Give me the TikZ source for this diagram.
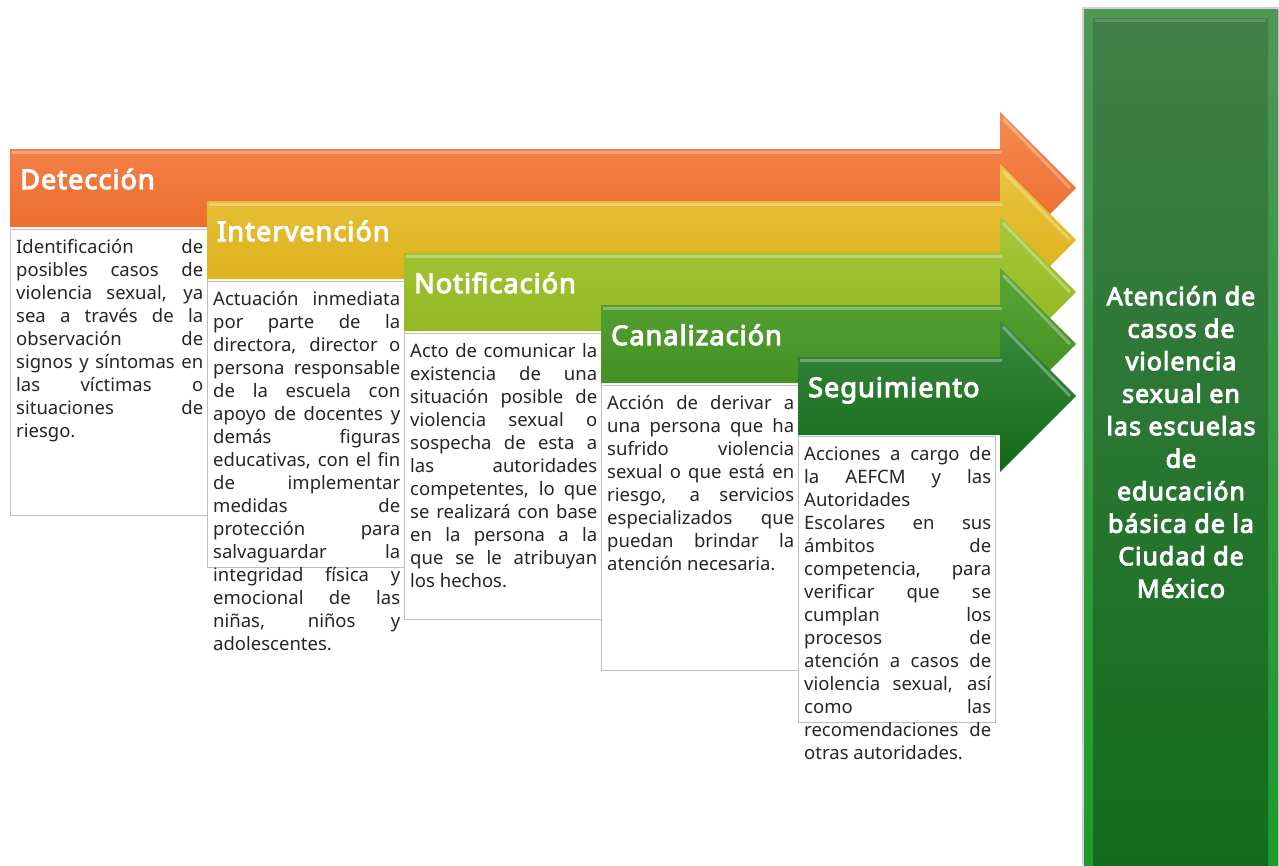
\documentclass[tikz,border=0pt]{standalone}
\usepackage{fontspec}
\setmainfont{Noto Sans}
\newfontfamily\heavyfont{Noto Sans}[FakeBold=4,LetterSpace=4]
\definecolor{bordergray}{HTML}{BFBFBF}
\definecolor{txtgray}{HTML}{262626}
\tolerance=10000
\hyphenpenalty=10000
\exhyphenpenalty=10000
\tikzset{
 boxframe/.style={draw=bordergray, fill=white, line width=1pt},
 bodytxt/.style={anchor=base west, inner sep=0pt, text width=187pt, align=justify,
   font=\fontsize{18.5}{23}\selectfont, text=txtgray},
 arrowlabel/.style={anchor=base west, inner sep=0pt, font=\heavyfont\fontsize{27}{30}\selectfont, text=white},
 sidetxt/.style={align=center, inner sep=0pt, font=\heavyfont\fontsize{25}{32.5}\selectfont, text=white},
}
\newcommand\steparrow[4]{%
 \shade[top color=#3, bottom color=#4] (#1,#2-39) -- (1000,#2-39) -- (1000,#2-76) -- (1076,#2) -- (1000,#2+76) -- (1000,#2+39) -- (#1,#2+39) -- cycle;
 \draw[white, opacity=0.3, line width=3pt] (#1+2,#2-36) -- (1002,#2-36);
 \draw[white, opacity=0.3, line width=3pt] (1003,#2-69) -- (1070,#2);
}
\begin{document}
\begin{tikzpicture}[x=1pt,y=-1pt]
\useasboundingbox (0,0) rectangle (1279,865);
\fill[white] (0,0) rectangle (1279,865);

% right side box
\fill[black!18] (1082,7) rectangle (1279,865);
\shade[top color={rgb,255:red,78;green,152;blue,86}, bottom color={rgb,255:red,30;green,155;blue,44}] (1084,9) rectangle (1278,865);
\shade[top color={rgb,255:red,64;green,128;blue,72}, bottom color={rgb,255:red,19;green,108;blue,28}] (1093,18) rectangle (1268,865);
\draw[white, opacity=0.15, line width=3pt] (1095,20) -- (1266,20);
\node[sidetxt] (side) at (1181,442) {Atención de\\casos de\\violencia\\sexual en\\las escuelas\\de\\educación\\básica de la\\Ciudad de\\México};

% arrow 1
\steparrow{10}{188}{{rgb,255:red,243;green,138;blue,82}}{{rgb,255:red,236;green,100;blue,36}}
\node[arrowlabel] (l1) at (20,189) {Detección};
\draw[boxframe] (10,229) rectangle (207,515);
\node[bodytxt] (t1) at (16,253) {Identificación de\linebreak posibles casos de\linebreak violencia sexual, ya\linebreak sea a través de la\linebreak observación de\linebreak signos y síntomas en\linebreak las víctimas o\linebreak situaciones de\linebreak riesgo.};

% arrow 2
\steparrow{207}{240}{{rgb,255:red,233;green,196;blue,64}}{{rgb,255:red,217;green,172;blue,18}}
\node[arrowlabel] (l2) at (217,241) {Intervención};
\draw[boxframe] (207,281) rectangle (404,567);
\node[bodytxt] (t2) at (213,305) {Actuación inmediata\linebreak por parte de la\linebreak directora, director o\linebreak persona responsable\linebreak de la escuela con\linebreak apoyo de docentes y\linebreak demás figuras\linebreak educativas, con el fin\linebreak de implementar\linebreak medidas de\linebreak protección para\linebreak salvaguardar la\linebreak integridad física y\linebreak emocional de las\linebreak niñas, niños y\linebreak adolescentes.};

% arrow 3
\steparrow{404}{292}{{rgb,255:red,166;green,200;blue,58}}{{rgb,255:red,141;green,179;blue,27}}
\node[arrowlabel] (l3) at (414,293) {Notificación};
\draw[boxframe] (404,333) rectangle (601,619);
\node[bodytxt] (t3) at (410,357) {Acto de comunicar la\linebreak existencia de una\linebreak situación posible de\linebreak violencia sexual o\linebreak sospecha de esta a\linebreak las autoridades\linebreak competentes, lo que\linebreak se realizará con base\linebreak en la persona a la\linebreak que se le atribuyan\linebreak los hechos.};

% arrow 4
\steparrow{601}{344}{{rgb,255:red,88;green,164;blue,56}}{{rgb,255:red,62;green,139;blue,28}}
\node[arrowlabel] (l4) at (611,345) {Canalización};
\draw[boxframe] (601,385) rectangle (798,670);
\node[bodytxt] (t4) at (607,409) {Acción de derivar a\linebreak una persona que ha\linebreak sufrido violencia\linebreak sexual o que está en\linebreak riesgo, a servicios\linebreak especializados que\linebreak puedan brindar la\linebreak atención necesaria.};

% arrow 5
\steparrow{798}{396}{{rgb,255:red,58;green,138;blue,64}}{{rgb,255:red,21;green,104;blue,24}}
\node[arrowlabel] (l5) at (808,397) {Seguimiento};
\draw[boxframe] (798,436) rectangle (995,722);
\node[bodytxt] (t5) at (804,460) {Acciones a cargo de\linebreak la AEFCM y las\linebreak Autoridades\linebreak Escolares en sus\linebreak ámbitos de\linebreak competencia, para\linebreak verificar que se\linebreak cumplan los\linebreak procesos de\linebreak atención a casos de\linebreak violencia sexual, así\linebreak como las\linebreak recomendaciones de\linebreak otras autoridades.};
\end{tikzpicture}
\end{document}
